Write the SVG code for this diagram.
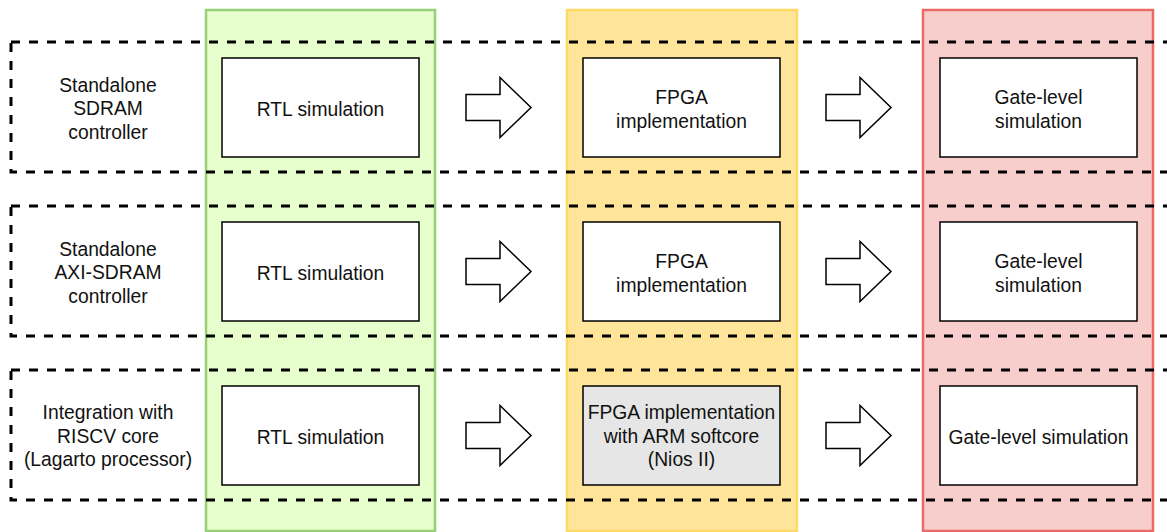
<svg xmlns="http://www.w3.org/2000/svg" width="1167" height="532" viewBox="0 0 1167 532">
  <defs>
    <style>
      .lane { stroke-width: 2.5; }
      .lane-rtl { fill: #e6ffcc; stroke: #97d077; }
      .lane-fpga { fill: #ffe599; stroke: #ffd966; }
      .lane-gate { fill: #f8cecc; stroke: #ea6b66; }
      .row { fill: none; stroke: #000; stroke-width: 3; stroke-dasharray: 9 9; }
      .box { fill: #fff; stroke: #000; stroke-width: 1.5; }
      .box.grey { fill: #e6e6e6; }
      .arrow { fill: #fff; stroke: #000; stroke-width: 1.5; stroke-linejoin: miter; }
      text { font-family: "Liberation Sans", Arial, sans-serif; font-size: 19.3px; fill: #111; text-anchor: middle; }
    </style>
    <path id="blockArrow" d="M0,-13 H34 V-30 L65,0 L34,30 V13 H0 Z"/>
  </defs>

  <!-- stage lanes -->
  <g id="lane-rtl"><rect class="lane lane-rtl" x="206" y="10" width="229" height="521"/></g>
  <g id="lane-fpga"><rect class="lane lane-fpga" x="567" y="10" width="230" height="521"/></g>
  <g id="lane-gate"><rect class="lane lane-gate" x="923" y="10" width="230" height="521"/></g>

  <!-- test rows (dashed frames) -->
  <g id="row-sdram">
    <rect class="row" x="11" y="42" width="1180" height="130"/>
    <text x="108" y="91.5">Standalone</text>
    <text x="108" y="115.2">SDRAM</text>
    <text x="108" y="138.9">controller</text>
  </g>
  <g id="row-axi">
    <rect class="row" x="11" y="206" width="1180" height="130"/>
    <text x="108" y="255.5">Standalone</text>
    <text x="108" y="279.2">AXI-SDRAM</text>
    <text x="108" y="302.9">controller</text>
  </g>
  <g id="row-riscv">
    <rect class="row" x="11" y="370" width="1180" height="130"/>
    <text x="108" y="418.8">Integration with</text>
    <text x="108" y="442.5">RISCV core</text>
    <text x="108" y="466.2">(Lagarto processor)</text>
  </g>

  <!-- row 1 -->
  <g id="rtl-1">
    <rect class="box" x="222" y="58" width="197" height="99"/>
    <text x="320.5" y="116">RTL simulation</text>
  </g>
  <g id="fpga-1">
    <rect class="box" x="583" y="58" width="197" height="99"/>
    <text x="681.5" y="104.2">FPGA</text>
    <text x="681.5" y="127.9">implementation</text>
  </g>
  <g id="gate-1">
    <rect class="box" x="940" y="58" width="197" height="99"/>
    <text x="1038.5" y="104.2">Gate-level</text>
    <text x="1038.5" y="127.9">simulation</text>
  </g>

  <!-- row 2 -->
  <g id="rtl-2">
    <rect class="box" x="222" y="222" width="197" height="99"/>
    <text x="320.5" y="280">RTL simulation</text>
  </g>
  <g id="fpga-2">
    <rect class="box" x="583" y="222" width="197" height="99"/>
    <text x="681.5" y="268.2">FPGA</text>
    <text x="681.5" y="291.9">implementation</text>
  </g>
  <g id="gate-2">
    <rect class="box" x="940" y="222" width="197" height="99"/>
    <text x="1038.5" y="268.2">Gate-level</text>
    <text x="1038.5" y="291.9">simulation</text>
  </g>

  <!-- row 3 -->
  <g id="rtl-3">
    <rect class="box" x="222" y="386" width="197" height="99"/>
    <text x="320.5" y="444">RTL simulation</text>
  </g>
  <g id="fpga-3">
    <rect class="box grey" x="583" y="386" width="197" height="99"/>
    <text x="681.5" y="419">FPGA implementation</text>
    <text x="681.5" y="442.7">with ARM softcore</text>
    <text x="681.5" y="466.4">(Nios II)</text>
  </g>
  <g id="gate-3">
    <rect class="box" x="940" y="386" width="197" height="99"/>
    <text x="1038.5" y="444">Gate-level simulation</text>
  </g>

  <!-- stage transitions -->
  <g id="connectors">
    <use href="#blockArrow" class="arrow" x="466" y="107.5"/>
    <use href="#blockArrow" class="arrow" x="826" y="107.5"/>
    <use href="#blockArrow" class="arrow" x="466" y="271.5"/>
    <use href="#blockArrow" class="arrow" x="826" y="271.5"/>
    <use href="#blockArrow" class="arrow" x="466" y="435.5"/>
    <use href="#blockArrow" class="arrow" x="826" y="435.5"/>
  </g>
</svg>
